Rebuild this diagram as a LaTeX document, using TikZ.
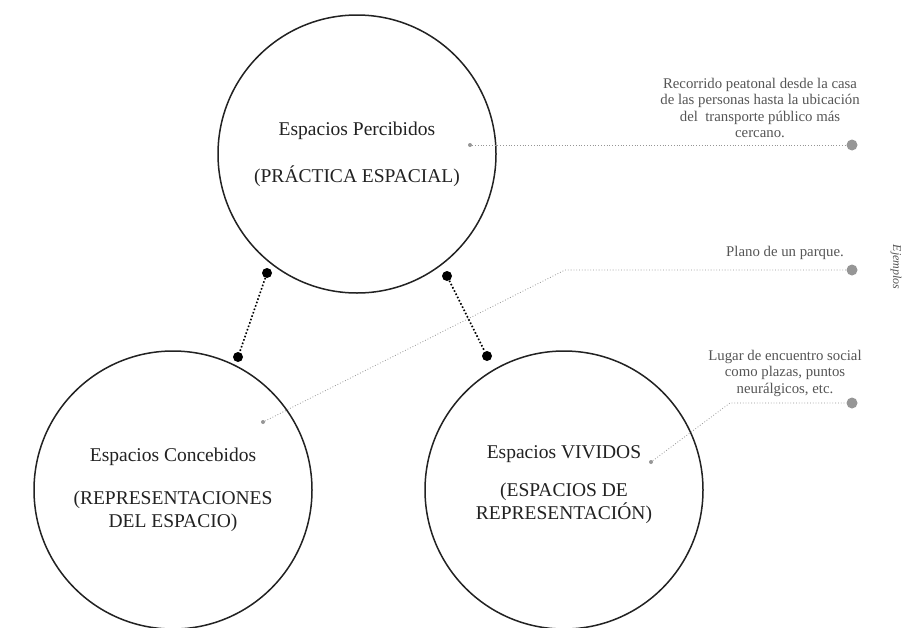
\documentclass[tikz,border=0pt]{standalone}
\usepackage{fontspec}
\setmainfont{Liberation Serif}
\usepackage{tikz}
\definecolor{ink}{RGB}{34, 34, 34}
\definecolor{note}{RGB}{85, 85, 85}
\definecolor{lead}{RGB}{150, 150, 150}

\begin{document}
\begin{tikzpicture}[x=1pt, y=-1pt,
  espacio/.style={circle, draw=ink, line width=1.5, minimum size=278,
    inner sep=0, align=center, text=ink, font=\fontsize{19.5}{23}\selectfont},
  nota/.style={align=center, text=note, font=\fontsize{14.8}{16.5}\selectfont},
  enlace/.style={circle, fill=black, inner sep=0, minimum size=10},
  origen/.style={circle, fill=lead, inner sep=0, minimum size=4},
  destino/.style={circle, fill=lead, inner sep=0, minimum size=11},
  guia/.style={draw=lead, line width=0.8, dotted}]
  \fill [white] (0, 0) rectangle (910, 627);
  \clip (0, 0) rectangle (910, 627);

  % los tres espacios
  \node[espacio] (percibidos) at (357, 154)
    {Espacios Percibidos\\[24pt](PRÁCTICA ESPACIAL)};
  \node[espacio] (concebidos) at (173, 490)
    {Espacios Concebidos\\[20pt](REPRESENTACIONES\\DEL ESPACIO)};
  \node[espacio] (vividos) at (564, 490)
    {Espacios VIVIDOS\\[15pt](ESPACIOS DE\\REPRESENTACIÓN)\\[-8pt]};

  % uniones
  \node[enlace] (pc1) at (267, 273) {};
  \node[enlace] (pc2) at (238, 357) {};
  \node[enlace] (pv1) at (447, 276) {};
  \node[enlace] (pv2) at (487, 356) {};
  \draw[line width=1.6, dotted] (pc1) -- (pc2);
  \draw[line width=1.6, dotted] (pv1) -- (pv2);

  % ejemplos
  \node[origen] (o1) at (470, 145) {};
  \node[destino] (d1) at (852, 145) {};
  \draw[guia] (o1) -- (d1);

  \node[origen] (o2) at (263, 422) {};
  \coordinate (q2) at (565, 270);
  \node[destino] (d2) at (852, 270) {};
  \draw[guia] (o2) -- (q2) -- (d2);

  \node[origen] (o3) at (651, 462) {};
  \coordinate (q3) at (730, 403);
  \node[destino] (d3) at (852, 403) {};
  \draw[guia] (o3) -- (q3) -- (d3);

  \node[nota] (n1) at (760, 108)
    {Recorrido peatonal desde la casa\\de las personas hasta la ubicación\\del\ \ transporte público más\\cercano.};
  \node[nota] (n2) at (785, 253) {Plano de un parque.};
  \node[nota] (n3) at (785, 373)
    {Lugar de encuentro social\\como plazas, puntos\\neurálgicos, etc.};
  \node[rotate=-90, text=note, font=\itshape\fontsize{12}{14}\selectfont]
    (ejemplos) at (896, 267) {Ejemplos};

\end{tikzpicture}
\end{document}
